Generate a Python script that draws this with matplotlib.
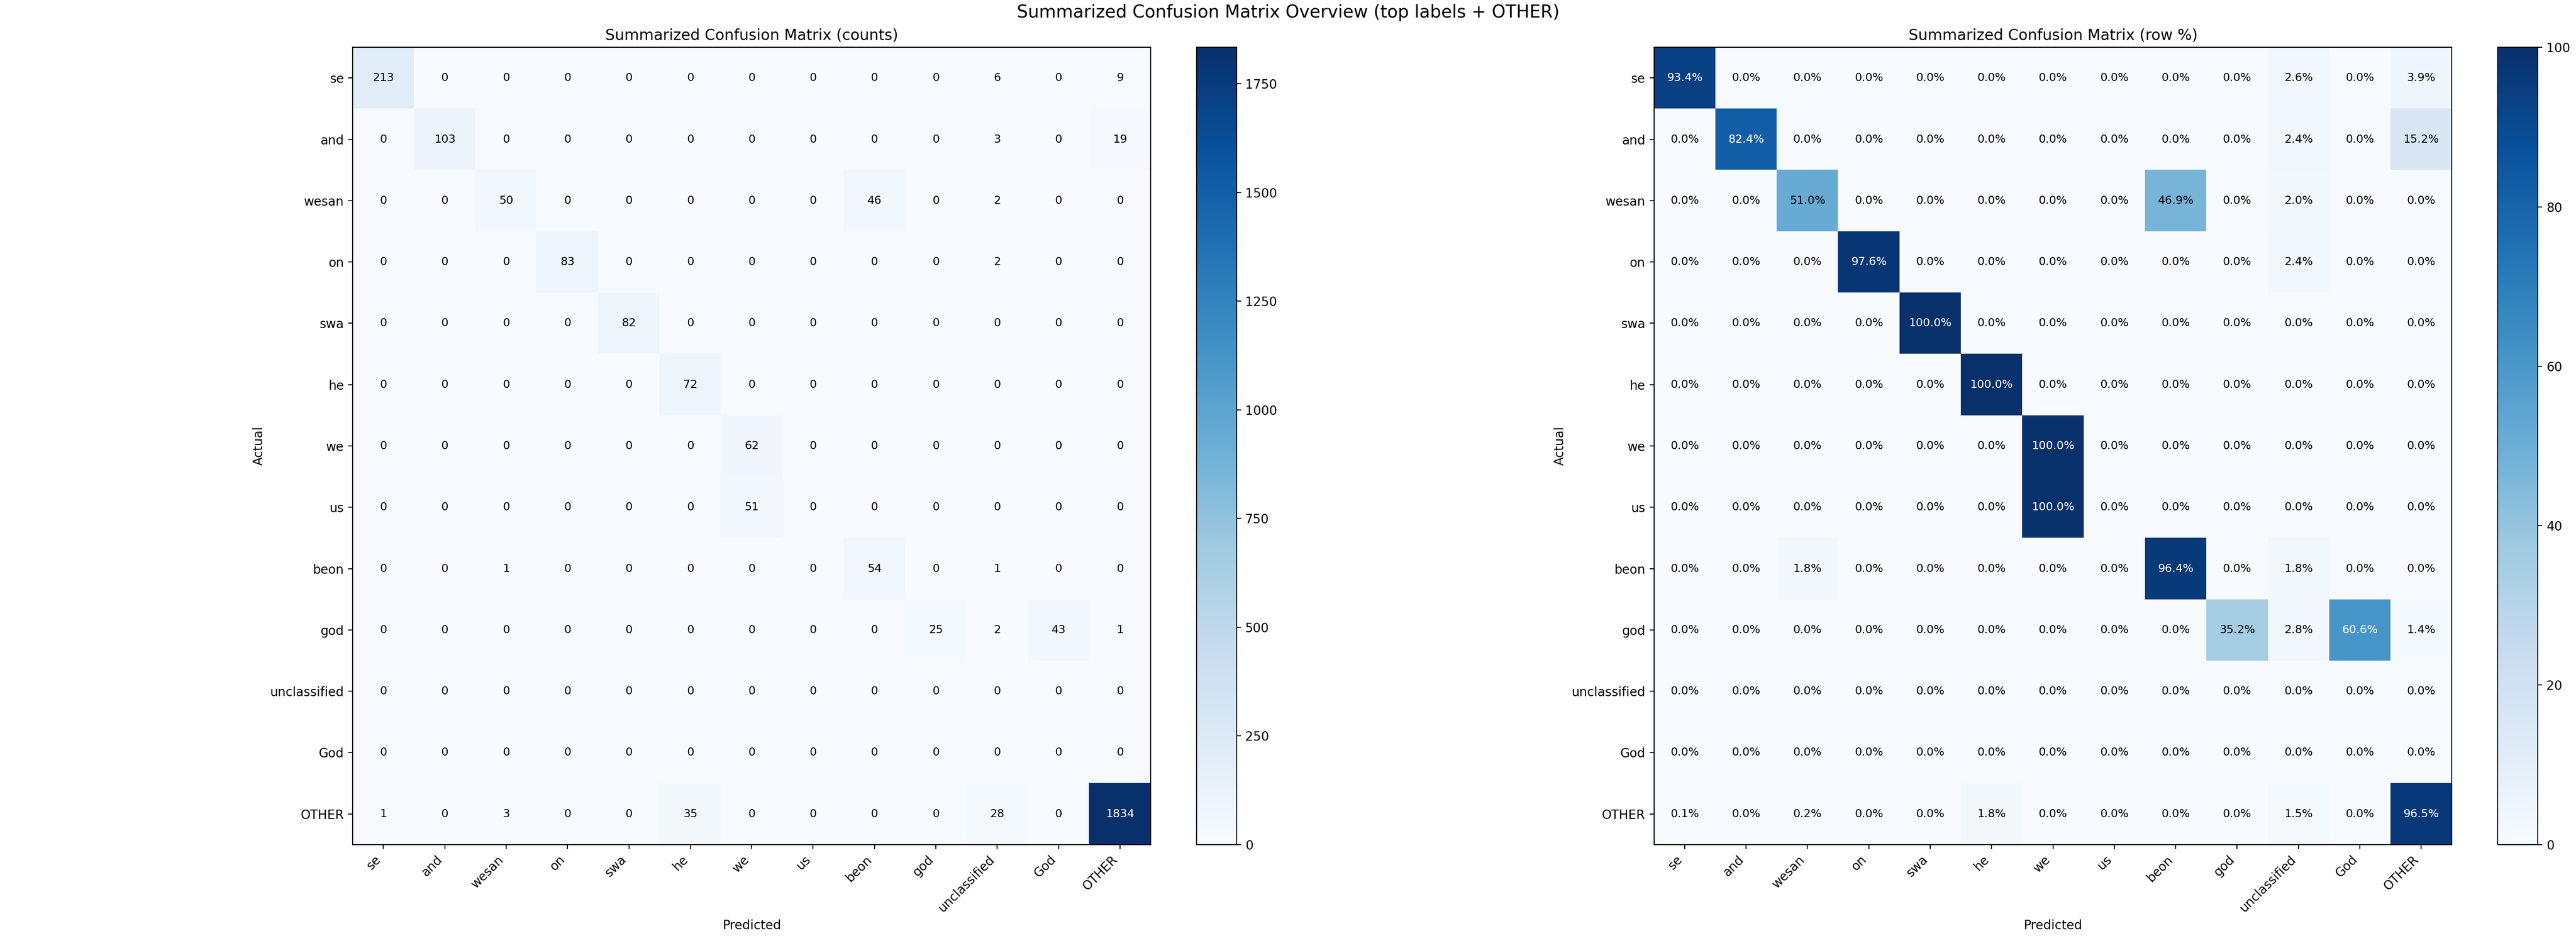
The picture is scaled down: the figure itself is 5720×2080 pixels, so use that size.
import numpy as np
import matplotlib
matplotlib.use("Agg")
import matplotlib.pyplot as plt

labels = ["se", "and", "wesan", "on", "swa", "he", "we", "us", "beon", "god",
          "unclassified", "God", "OTHER"]

counts_se = [213, 0, 0, 0, 0, 0, 0, 0, 0, 0, 6, 0, 9]
counts_and = [0, 103, 0, 0, 0, 0, 0, 0, 0, 0, 3, 0, 19]
counts_wesan = [0, 0, 50, 0, 0, 0, 0, 0, 46, 0, 2, 0, 0]
counts_on = [0, 0, 0, 83, 0, 0, 0, 0, 0, 0, 2, 0, 0]
counts_swa = [0, 0, 0, 0, 82, 0, 0, 0, 0, 0, 0, 0, 0]
counts_he = [0, 0, 0, 0, 0, 72, 0, 0, 0, 0, 0, 0, 0]
counts_we = [0, 0, 0, 0, 0, 0, 62, 0, 0, 0, 0, 0, 0]
counts_us = [0, 0, 0, 0, 0, 0, 51, 0, 0, 0, 0, 0, 0]
counts_beon = [0, 0, 1, 0, 0, 0, 0, 0, 54, 0, 1, 0, 0]
counts_god = [0, 0, 0, 0, 0, 0, 0, 0, 0, 25, 2, 43, 1]
counts_unclassified = [0, 0, 0, 0, 0, 0, 0, 0, 0, 0, 0, 0, 0]
counts_God = [0, 0, 0, 0, 0, 0, 0, 0, 0, 0, 0, 0, 0]
counts_OTHER = [1, 0, 3, 0, 0, 35, 0, 0, 0, 0, 28, 0, 1834]

pct_se = [93.4, 0.0, 0.0, 0.0, 0.0, 0.0, 0.0, 0.0, 0.0, 0.0, 2.6, 0.0, 3.9]
pct_and = [0.0, 82.4, 0.0, 0.0, 0.0, 0.0, 0.0, 0.0, 0.0, 0.0, 2.4, 0.0, 15.2]
pct_wesan = [0.0, 0.0, 51.0, 0.0, 0.0, 0.0, 0.0, 0.0, 46.9, 0.0, 2.0, 0.0, 0.0]
pct_on = [0.0, 0.0, 0.0, 97.6, 0.0, 0.0, 0.0, 0.0, 0.0, 0.0, 2.4, 0.0, 0.0]
pct_swa = [0.0, 0.0, 0.0, 0.0, 100.0, 0.0, 0.0, 0.0, 0.0, 0.0, 0.0, 0.0, 0.0]
pct_he = [0.0, 0.0, 0.0, 0.0, 0.0, 100.0, 0.0, 0.0, 0.0, 0.0, 0.0, 0.0, 0.0]
pct_we = [0.0, 0.0, 0.0, 0.0, 0.0, 0.0, 100.0, 0.0, 0.0, 0.0, 0.0, 0.0, 0.0]
pct_us = [0.0, 0.0, 0.0, 0.0, 0.0, 0.0, 100.0, 0.0, 0.0, 0.0, 0.0, 0.0, 0.0]
pct_beon = [0.0, 0.0, 1.8, 0.0, 0.0, 0.0, 0.0, 0.0, 96.4, 0.0, 1.8, 0.0, 0.0]
pct_god = [0.0, 0.0, 0.0, 0.0, 0.0, 0.0, 0.0, 0.0, 0.0, 35.2, 2.8, 60.6, 1.4]
pct_unclassified = [0.0] * 13
pct_God = [0.0] * 13
pct_OTHER = [0.1, 0.0, 0.2, 0.0, 0.0, 1.8, 0.0, 0.0, 0.0, 0.0, 1.5, 0.0, 96.5]

counts = np.array([counts_se, counts_and, counts_wesan, counts_on, counts_swa,
                   counts_he, counts_we, counts_us, counts_beon, counts_god,
                   counts_unclassified, counts_God, counts_OTHER], dtype=float)
pct = np.array([pct_se, pct_and, pct_wesan, pct_on, pct_swa, pct_he, pct_we,
                pct_us, pct_beon, pct_god, pct_unclassified, pct_God, pct_OTHER])

W, H = 5720, 2080
fig = plt.figure(figsize=(28.6, 10.4), dpi=200)


def px_axes(x0, y0, x1, y1):
    return fig.add_axes([x0 / W, 1 - y1 / H, (x1 - x0) / W, (y1 - y0) / H])


ax_top, ax_bot = 105.3, 1876.7
ax1 = px_axes(783.3, ax_top, 2555.0, ax_bot)
cax1 = px_axes(2656.7, ax_top, 2745.7, ax_bot)
ax2 = px_axes(3672.7, ax_top, 5444.4, ax_bot)
cax2 = px_axes(5546.0, ax_top, 5635.0, ax_bot)


def draw(ax, cax, data, title, fmt):
    im = ax.imshow(data, cmap="Blues", interpolation="nearest", aspect="auto")
    fig.colorbar(im, cax=cax)
    ax.set_title(title, fontsize=12)
    n = len(labels)
    ax.set_xticks(np.arange(n))
    ax.set_yticks(np.arange(n))
    ax.set_xticklabels(labels, rotation=45, ha="right", fontsize=10)
    ax.set_yticklabels(labels, fontsize=10)
    ax.set_xlabel("Predicted", fontsize=10)
    ax.set_ylabel("Actual", fontsize=10)
    thresh = data.max() * 0.55
    for i in range(n):
        for j in range(n):
            v = data[i, j]
            ax.text(j, i, fmt(v), ha="center", va="center", fontsize=9,
                    color="white" if v > thresh else "black")


draw(ax1, cax1, counts, "Summarized Confusion Matrix (counts)",
     lambda v: f"{int(v)}")
draw(ax2, cax2, pct, "Summarized Confusion Matrix (row %)",
     lambda v: f"{v:.1f}%")

fig.suptitle("Summarized Confusion Matrix Overview (top labels + OTHER)",
             fontsize=14, y=0.9957, va="top")

fig.savefig("out.png", dpi=200)
